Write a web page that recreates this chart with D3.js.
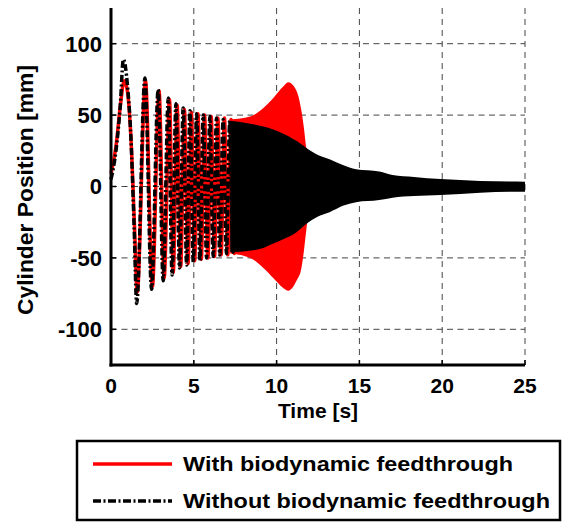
<!DOCTYPE html>
<head>
  <meta charset="utf-8">
  <script src="https://d3js.org/d3.v7.min.js"></script>
  <style>
    body { margin:0; background:#fff; }
    text { font-family: "Liberation Sans", Arial, sans-serif; font-weight: bold; fill: #000; }
  </style>
</head>
<body>
<script>
  var width = 567, height = 523;

  // early part, single strokes still visible (peaks / troughs)
  var timeWithout = [0, 0.3, 0.55, 0.75, 1.0, 1.2, 1.4, 1.55, 2.05, 2.45, 2.85, 3.15, 3.46, 3.69, 3.92, 4.14,
                     4.36, 4.57, 4.77, 4.97, 5.17, 5.37, 5.57, 5.77, 5.97, 6.17, 6.37, 6.57, 6.77, 6.97, 7.17, 7.37, 7.57];
  var withoutEarly = [5, 25, 55, 89, 70, 35, -30, -82, 76, -72, 68, -66, 62, -62, 58, -57,
                      55, -55, 53, -53, 51, -52, 50, -50, 49, -49, 48, -48, 47, -47, 46, -46, 46];
  // red lags the black slightly once the strokes get dense
  var timeWith = [0, 0.3, 0.55, 0.8, 1.0, 1.2, 1.42, 1.58, 2.08, 2.5, 2.9, 3.21, 3.53, 3.76, 3.99, 4.21,
                  4.43, 4.65, 4.85, 5.05, 5.25, 5.45, 5.65, 5.85, 6.05, 6.25, 6.45, 6.65, 6.85, 7.05, 7.25, 7.45, 7.65];
  var withEarly = [9, 28, 55, 74, 66, 35, -28, -74, 74, -70, 67, -64, 61, -60, 57, -56,
                   54, -54, 52, -52, 51, -51, 50, -50, 49, -49, 48, -48, 48, -48, 47, -47, 47];

  // dense part: envelope of the oscillation
  var envTimeWith = [7.2, 8.4, 9.2, 9.8, 10.4, 10.7, 11.2, 11.5, 11.65, 11.8, 11.9, 12.5];
  var withUpper   = [47, 49, 55, 62, 70, 73, 67, 53, 41, 27, 24, 21];
  var withLower   = [-47, -50, -57, -64, -71, -73, -66, -57, -45, -30, -23, -20];

  var envTimeWithout = [7.2, 8.4, 9.2, 9.8, 10.4, 11.2, 11.8, 12.5, 13.2, 14.0, 14.8, 16.2, 17.0, 18.3, 19.9, 22.3, 25];
  var withoutUpper   = [46, 44, 42, 40, 37, 32, 27, 22, 19, 15, 12, 10.5, 8, 6.7, 5.2, 3.9, 3.4];
  var withoutLower   = [-46, -45, -43, -40, -37, -32, -26, -21, -18, -13.5, -11, -9.5, -7.8, -6.7, -6, -4.3, -3.6];

  var xTicks = [0, 5, 10, 15, 20, 25];
  var yTicks = [-100, -50, 0, 50, 100];
  var legendLabels = ["With biodynamic feedthrough", "Without biodynamic feedthrough"];

  var svg = d3.select("body").append("svg")
    .attr("width", width)
    .attr("height", height);

  var x = d3.scaleLinear().domain([0, 25]).range([111, 525]);
  var y = d3.scaleLinear().domain([-125, 125]).range([365, 8]);

  // grid
  svg.append("g").selectAll("line").data(xTicks.slice(1)).enter().append("line")
    .attr("x1", function(d) { return x(d); }).attr("x2", function(d) { return x(d); })
    .attr("y1", y(125)).attr("y2", y(-125))
    .style("stroke", "#444").style("stroke-width", 1).style("stroke-dasharray", "6,5");
  svg.append("g").selectAll("line").data(yTicks).enter().append("line")
    .attr("x1", x(0)).attr("x2", x(25))
    .attr("y1", function(d) { return y(d); }).attr("y2", function(d) { return y(d); })
    .style("stroke", "#444").style("stroke-width", 1).style("stroke-dasharray", "6,4.5");

  var line = d3.line()
    .x(function(d) { return x(d[0]); })
    .y(function(d) { return y(d[1]); })
    .curve(d3.curveMonotoneX);
  var area = d3.area()
    .x(function(d) { return x(d[0]); })
    .y0(function(d) { return y(d[2]); })
    .y1(function(d) { return y(d[1]); })
    .curve(d3.curveMonotoneX);

  var withPts = timeWith.map(function(t, i) { return [t, withEarly[i]]; });
  var withoutPts = timeWithout.map(function(t, i) { return [t, withoutEarly[i]]; });
  var withEnv = envTimeWith.map(function(t, i) { return [t, withUpper[i], withLower[i]]; });
  var withoutEnv = envTimeWithout.map(function(t, i) { return [t, withoutUpper[i], withoutLower[i]]; });

  svg.append("path").attr("d", area(withEnv)).style("fill", "#ff0000");
  svg.append("path").attr("d", line(withPts))
    .style("fill", "none").style("stroke", "#ff0000").style("stroke-width", 3.5);
  svg.append("path").attr("d", area(withoutEnv)).style("fill", "#000");
  svg.append("path").attr("d", line(withoutPts))
    .style("fill", "none").style("stroke", "#000").style("stroke-width", 3.5)
    .style("stroke-dasharray", "7,2.5,2,2.5");

  // axes
  svg.append("line").attr("x1", x(0)).attr("x2", x(0)).attr("y1", y(125)).attr("y2", y(-125) + 1.5)
    .style("stroke", "#000").style("stroke-width", 3);
  svg.append("line").attr("x1", x(0) - 1.5).attr("x2", x(25)).attr("y1", y(-125)).attr("y2", y(-125))
    .style("stroke", "#000").style("stroke-width", 3);

  svg.append("g").selectAll("line").data(yTicks).enter().append("line")
    .attr("x1", x(0)).attr("x2", x(0) + 5)
    .attr("y1", function(d) { return y(d); }).attr("y2", function(d) { return y(d); })
    .style("stroke", "#000").style("stroke-width", 1.5);
  svg.append("g").selectAll("line").data(xTicks).enter().append("line")
    .attr("x1", function(d) { return x(d); }).attr("x2", function(d) { return x(d); })
    .attr("y1", y(-125)).attr("y2", y(-125) - 5)
    .style("stroke", "#000").style("stroke-width", 1.5);

  svg.append("g").selectAll("text").data(yTicks).enter().append("text")
    .attr("x", 102).attr("y", function(d) { return y(d); })
    .attr("dy", "0.36em").attr("text-anchor", "end")
    .style("font-size", "22px")
    .text(function(d) { return d; });
  svg.append("g").selectAll("text").data(xTicks).enter().append("text")
    .attr("x", function(d) { return x(d); }).attr("y", 393)
    .attr("text-anchor", "middle")
    .style("font-size", "21px")
    .text(function(d) { return d; });

  svg.append("text").attr("x", 318).attr("y", 418).attr("text-anchor", "middle")
    .style("font-size", "21px").text("Time [s]");
  svg.append("text").attr("transform", "translate(33,190) rotate(-90)")
    .attr("text-anchor", "middle")
    .attr("textLength", 250).attr("lengthAdjust", "spacingAndGlyphs")
    .style("font-size", "22px").text("Cylinder Position [mm]");

  // legend
  var lg = svg.append("g");
  lg.append("rect").attr("x", 77).attr("y", 441).attr("width", 483).attr("height", 79)
    .style("fill", "#fff").style("stroke", "#000").style("stroke-width", 2.5);
  lg.append("line").attr("x1", 93).attr("x2", 172).attr("y1", 464).attr("y2", 464)
    .style("stroke", "#ff0000").style("stroke-width", 3.5);
  lg.append("line").attr("x1", 93).attr("x2", 172).attr("y1", 501).attr("y2", 501)
    .style("stroke", "#000").style("stroke-width", 3.5).style("stroke-dasharray", "8,2.5,2,2.5");
  lg.append("text").attr("x", 183).attr("y", 471)
    .attr("textLength", 330).attr("lengthAdjust", "spacingAndGlyphs")
    .style("font-size", "20px").text(legendLabels[0]);
  lg.append("text").attr("x", 183).attr("y", 508)
    .attr("textLength", 367).attr("lengthAdjust", "spacingAndGlyphs")
    .style("font-size", "20px").text(legendLabels[1]);
</script>
</body>
